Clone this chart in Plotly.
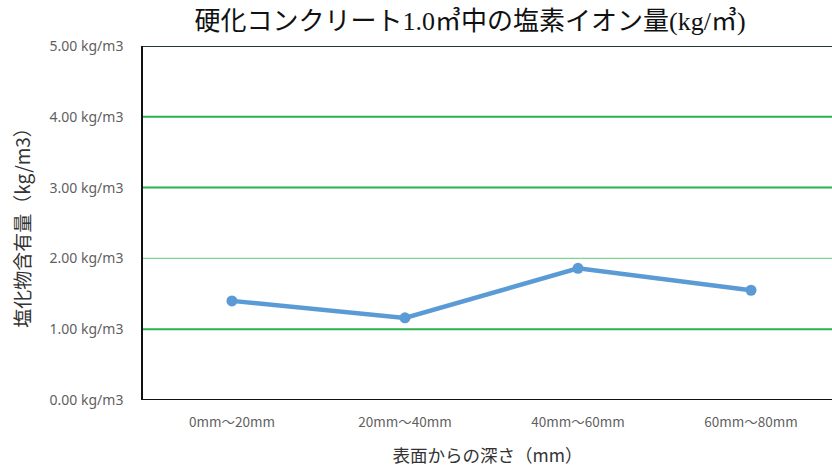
import plotly.graph_objects as go

# Chloride content by depth from the concrete surface
depths = ["0mm～20mm", "20mm～40mm", "40mm～60mm", "60mm～80mm"]
chloride = [1.40, 1.16, 1.86, 1.55]

y_ticks = [0, 1, 2, 3, 4, 5]
y_tick_text = [f"{v:.2f} kg/m3" for v in y_ticks]
strong_grid = [1, 3, 4]
light_grid = [2]

fig = go.Figure()
fig.add_trace(go.Scatter(
    x=list(range(len(depths))), y=chloride,
    mode="lines+markers",
    line=dict(color="#5b9bd5", width=4.5),
    marker=dict(color="#5b9bd5", size=11),
    hoverinfo="x+y",
))

shapes = []
for v in strong_grid:
    shapes.append(dict(type="line", xref="paper", yref="y", x0=0, x1=1, y0=v, y1=v,
                       line=dict(color="#2db14f", width=2), layer="below"))
for v in light_grid:
    shapes.append(dict(type="line", xref="paper", yref="y", x0=0, x1=1, y0=v, y1=v,
                       line=dict(color="#7fd491", width=1.2), layer="below"))
# top frame line
shapes.append(dict(type="line", xref="paper", yref="y", x0=0, x1=1, y0=5, y1=5,
                   line=dict(color="#1e3b2c", width=2.2)))
# bottom axis frame line
shapes.append(dict(type="line", xref="paper", yref="y", x0=0, x1=1, y0=0, y1=0,
                   line=dict(color="#111111", width=2)))

fig.update_layout(
    width=832, height=468,
    margin=dict(l=143, r=0, t=46, b=68),
    paper_bgcolor="white", plot_bgcolor="white",
    showlegend=False,
    shapes=shapes,
    title=dict(
        text="硬化コンクリート1.0㎥中の塩素イオン量(kg/㎥)",
        x=0.565, xref="container", xanchor="center",
        y=0.955, yref="container", yanchor="middle",
        font=dict(family="Liberation Serif, Noto Sans CJK JP", size=26, color="#111111"),
    ),
    xaxis=dict(
        tickmode="array", tickvals=list(range(len(depths))), ticktext=depths,
        range=[-0.514, 3.468],
        showgrid=False, zeroline=False,
        showline=False, ticks="",
        tickfont=dict(family="Noto Sans CJK JP", size=13.5, color="#5f5f5f"),
        ticklabelstandoff=12,
        title=dict(text="表面からの深さ（mm）", standoff=20,
                   font=dict(family="Noto Sans CJK JP", size=17.5, color="#333333")),
    ),
    yaxis=dict(
        range=[0, 5], tickmode="array", tickvals=y_ticks, ticktext=y_tick_text,
        showgrid=False, zeroline=False,
        showline=True, linecolor="#111111", linewidth=1.6,
        ticks="",
        tickfont=dict(family="Noto Sans", size=14, color="#5f5f5f"),
        ticklabelstandoff=15,
        title=dict(text="塩化物含有量（kg/m3）", standoff=14,
                   font=dict(family="Noto Sans CJK JP", size=19, color="#333333")),
    ),
)

fig.write_html("out.html")
